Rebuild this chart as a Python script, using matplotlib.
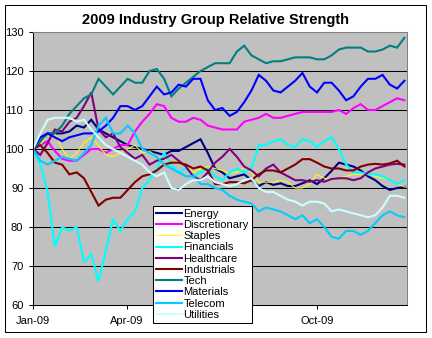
import matplotlib
matplotlib.use("Agg")
import matplotlib.pyplot as plt
import matplotlib.dates as mdates
import matplotlib.patches as mpatches
import pandas as pd

plt.rcParams['font.family'] = ['Liberation Sans', 'DejaVu Sans']

# weekly sample dates (Jan 1 2009 onward)
dates = pd.date_range('2009-01-01', periods=52, freq='7D')

energy = [100, 102, 104, 104, 104, 104.5, 106, 105.5, 107.5, 105, 104, 103, 102, 101, 100.5, 100,
          99.5, 99, 98.5, 99.5, 99.5, 100.5, 101.5, 102.5, 99, 95, 94, 92.5, 93, 93.5, 92, 90.5,
          91.5, 90.8, 91.2, 90.5, 90.5, 91.2, 92, 91, 92.5, 94.4, 96.5, 96, 95.5, 94.5, 93, 92,
          90.5, 89.5, 90, 90.3]
discretionary = [100, 101, 102, 99.5, 97.5, 97, 97, 98.5, 100, 100, 99, 100, 101, 101, 104.5, 107,
                 109, 111.5, 111, 108, 107, 107, 108, 107.5, 106, 105.5, 105, 105, 105, 107, 107.5, 108,
                 109, 108, 108, 108.5, 109, 109.5, 109.5, 109.5, 109.5, 109.5, 110, 109, 110.5, 111.5, 110, 110,
                 111, 112, 113, 112.5]
staples = [100, 101, 104, 104, 100, 97.5, 99, 101.5, 103, 101, 98.5, 98, 99, 100, 101, 99,
           99.5, 98, 97.5, 96.5, 97, 96, 94, 95, 95.5, 95, 94.5, 93.8, 94, 95.3, 94, 91.5,
           91.5, 91.5, 92, 91.5, 90, 90, 91, 93.5, 92.5, 92, 92.5, 93, 93.5, 93.5, 93.5, 93,
           92.5, 92, 91, 90.3]
financials = [100, 96, 89, 75, 80, 79, 80, 71, 73, 66, 74, 82, 79, 82, 84, 90,
              92, 95, 99, 96, 94, 95, 93, 94, 95, 93, 92, 94, 95, 94, 95, 101,
              101, 102, 102.5, 101, 100.5, 102.5, 102, 100.5, 102, 103, 100, 96, 94, 94, 93.5, 93.5,
              93, 92, 91, 92]
healthcare = [100, 98.5, 101.5, 105, 104.5, 107, 108, 111, 114.5, 105, 103, 104, 100.5, 99, 97.5, 98.5,
              96, 97, 97.5, 98.5, 97, 95.5, 93, 92, 94, 96.5, 98, 100, 98, 95.5, 94.5, 93,
              95, 96, 94, 93, 92, 92, 91.6, 92, 91.6, 92.3, 92.5, 92.5, 92, 92.5, 94, 95,
              95.5, 96, 96.2, 96]
industrials = [100, 101, 99, 96.5, 96, 93.5, 94, 92.5, 89, 85.5, 87, 87.5, 87.5, 89.5, 91.5, 93,
               93.5, 94.5, 96, 96.5, 96.5, 96, 95, 95.5, 94.5, 91, 91, 91.5, 91.5, 91.2, 92, 93.5,
               94.5, 94.5, 94, 95, 96, 97.4, 97.4, 96.5, 95.5, 95, 95, 94.5, 94.5, 95.5, 96, 96.2,
               96, 96.3, 97, 95.5]
tech = [100, 102, 104, 104, 106, 109, 111, 113, 114, 118, 116, 114, 116, 118, 117, 117,
        120, 120.5, 118, 113.5, 115.5, 117, 118.5, 120, 121, 122, 122, 122, 125, 126.5, 124, 123,
        122, 122.5, 122.5, 123, 123.5, 123.5, 123.5, 123, 123, 124, 125.5, 126, 126, 126, 125, 125,
        125.5, 126.5, 126, 128.5]
materials = [100, 103, 104, 103, 102, 103, 103.5, 104, 104, 104.5, 106, 108, 111, 111, 110, 111,
             113.5, 116, 114, 114.5, 116.5, 116, 118, 118, 112.5, 110, 110.5, 108.5, 109.5, 112, 115, 119,
             117.5, 115, 114.5, 116, 117.5, 119.5, 116, 114.5, 117, 117, 115, 112.5, 113.5, 116, 118, 118,
             119, 116.5, 115.5, 117.5]
telecom = [100, 97, 96, 97, 98, 97.5, 97, 99, 101, 106, 108, 104, 104, 106, 104, 100,
           99, 98, 96, 95, 94, 93, 93, 91, 91, 90, 89.5, 88, 87, 86.5, 86, 84,
           85, 84.5, 84, 83, 82, 83, 81, 82, 80, 77.5, 77, 79, 79, 78, 79, 81,
           83, 84, 83, 82.5]
utilities = [100, 104, 107.5, 108, 108, 108, 107, 107.5, 105, 103, 101, 100, 99, 98, 97, 96,
             94, 93, 94, 90, 89.5, 91, 92, 92, 93, 91.5, 91, 90.5, 91, 92, 92.5, 90,
             89, 89, 88, 87, 86.5, 85.5, 86.5, 86.5, 86, 84, 84.5, 84, 83.5, 83, 82.5, 83,
             85, 88, 88, 87.5]

names = ['Energy', 'Discretionary', 'Staples', 'Financials', 'Healthcare',
         'Industrials', 'Tech', 'Materials', 'Telecom', 'Utilities']
series = [energy, discretionary, staples, financials, healthcare,
          industrials, tech, materials, telecom, utilities]
colors = ['#000080', '#FF00FF', '#FFFF00', '#00FFFF', '#800080',
          '#800000', '#008080', '#0000FF', '#00CCFF', '#CCFFFF']
widths = [1.5, 1.5, 0.75, 1.5, 1.5, 1.5, 1.5, 1.5, 1.5, 1.5]

W, H = 432, 338
fig = plt.figure(figsize=(W / 100, H / 100), dpi=100)
ax = fig.add_axes([33 / W, 1 - 305 / H, 374 / W, 273 / H])
ax.set_facecolor('#C0C0C0')

for name, vals, c, lw in zip(names, series, colors, widths):
    ax.plot(dates, vals, color=c, lw=lw, label=name, solid_joinstyle='miter')

ax.set_ylim(60, 130)
ax.set_yticks(range(60, 131, 10))
ax.set_xlim(pd.Timestamp('2009-01-01'), pd.Timestamp('2009-12-26 12:00'))
ax.xaxis.set_major_locator(mdates.MonthLocator(bymonth=[1, 4, 7, 10]))
ax.xaxis.set_major_formatter(mdates.DateFormatter('%b-%y'))

for y in range(70, 130, 10):
    ax.axhline(y, color='black', lw=0.75, zorder=1.5)

ax.spines['left'].set_color('black')
ax.spines['bottom'].set_color('black')
ax.spines['top'].set_color('#808080')
ax.spines['right'].set_color('#808080')
for s in ax.spines.values():
    s.set_linewidth(0.75)

ax.tick_params(axis='both', direction='out', length=3, width=0.75, labelsize=8, colors='black')
ax.tick_params(axis='y', pad=4)
ax.tick_params(axis='x', pad=5)

fig.text(215 / W, 1 - 20 / H, '2009 Industry Group Relative Strength', ha='center', va='center',
         fontsize=10.5, fontweight='bold')

leg = ax.legend(loc='upper left', bbox_to_anchor=(153 / W, 1 - 206 / H), bbox_transform=fig.transFigure,
                fontsize=8, frameon=True, fancybox=False, shadow=False, framealpha=1,
                edgecolor='black', borderaxespad=0, borderpad=0.25, handlelength=2.35,
                handletextpad=0.15, labelspacing=0.11)
leg.get_frame().set_linewidth(0.75)
leg.set_zorder(10)

border = mpatches.Rectangle((5 / W, 1 - 332 / H), 421 / W, 327 / H, transform=fig.transFigure,
                            fill=False, edgecolor='black', lw=0.75)
fig.add_artist(border)

fig.savefig('out.png', dpi=100)
